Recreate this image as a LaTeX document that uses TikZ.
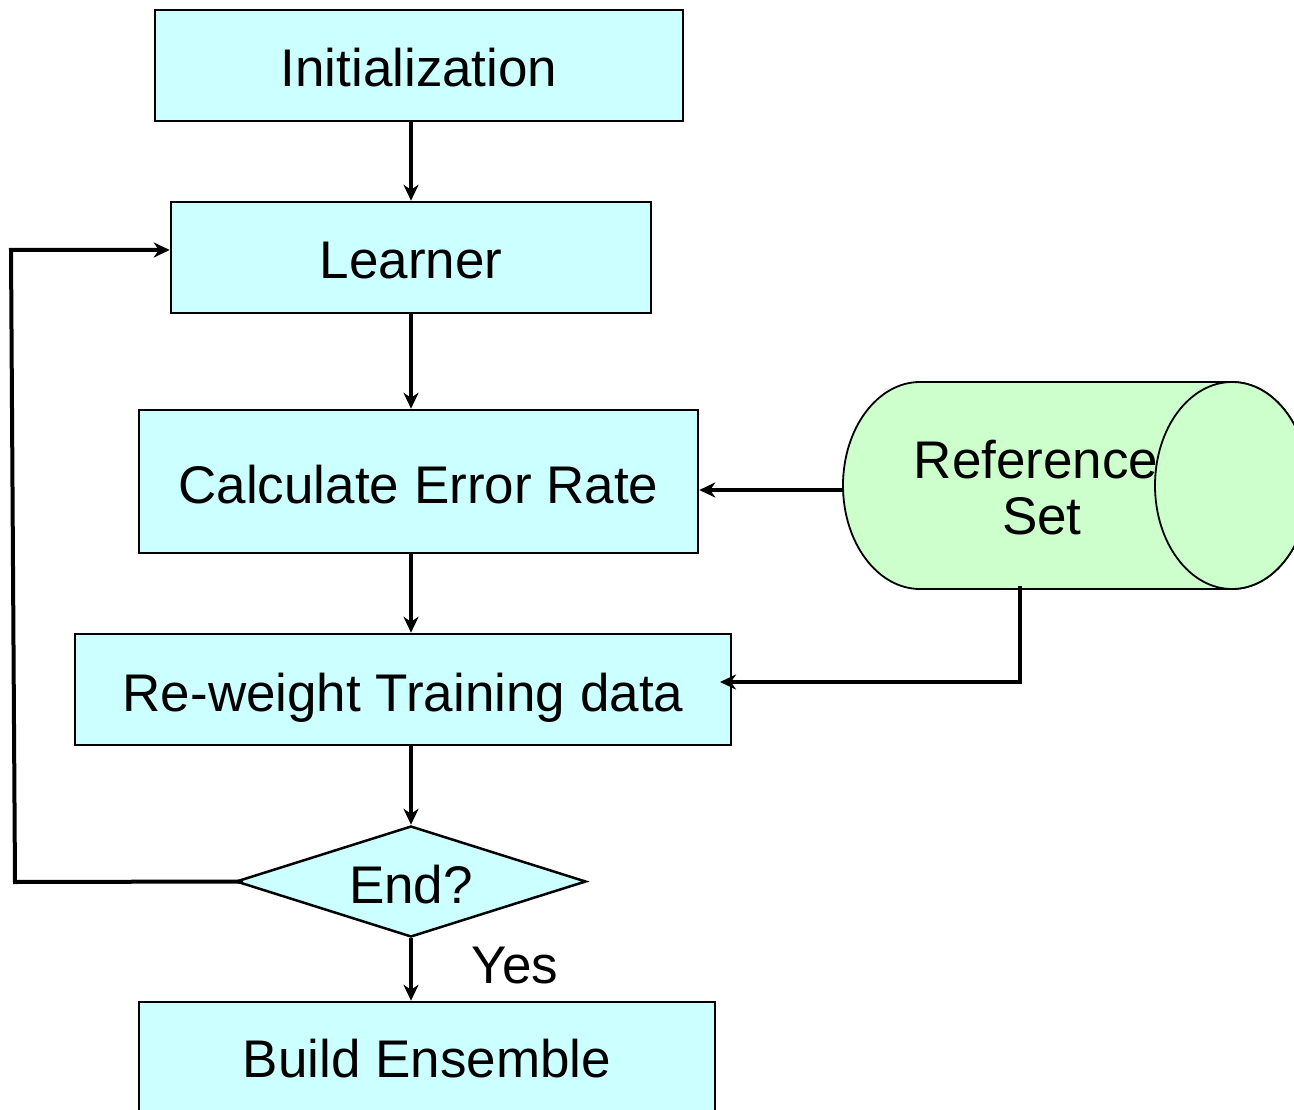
\documentclass[tikz,border=0pt]{standalone}
\usepackage{fontspec}
\setmainfont{Liberation Sans}
\usetikzlibrary{arrows.meta,shapes.geometric}
\definecolor{boxcyan}{HTML}{CCFFFF}
\definecolor{storegreen}{HTML}{CCFFCC}
\tikzset{
  every node/.style={font=\fontsize{53}{60}\selectfont, inner sep=0pt},
  oneline/.style={text height=43pt, text depth=0pt},
  procbox/.style={oneline, draw=black, line width=2.5pt, fill=boxcyan, rectangle},
  flow/.style={draw=black, line width=4pt, -{Stealth[length=16pt,width=15pt,inset=5pt]}}
}
\begin{document}
\begin{tikzpicture}[x=1pt,y=-1pt]
\useasboundingbox (0,0) rectangle (1294,1110);
\clip (0,0) rectangle (1294,1110);

% process steps
\node[procbox, minimum width=528pt, minimum height=111pt] (init) at (419,65.5) {Initialization};
\node[procbox, minimum width=480pt, minimum height=111pt] (learner) at (411,257.5) {Learner};
\node[procbox, minimum width=559pt, minimum height=143pt] (calc) at (418.5,481.5) {Calculate Error Rate};
\node[procbox, minimum width=656pt, minimum height=111pt] (reweight) at (403,689.5) {Re-weight Training data};
\node[diamond, draw=black, line width=2.5pt, fill=boxcyan, minimum width=350pt, minimum height=111pt] (stop) at (411,881.5) {};
\node[oneline] (stoptext) at (stop) {End?};
% the last box runs past the lower edge
\node[procbox, text depth=23pt, minimum width=576pt, minimum height=130pt] (build) at (427,1067) {Build Ensemble};

% reference set drawn as a horizontal cylinder
\path[fill=storegreen, draw=black, line width=1.8pt]
  (920,382) -- (1232,382) arc[start angle=90, end angle=-90, x radius=77, y radius=-103.5]
  -- (920,589) arc[start angle=270, end angle=90, x radius=77, y radius=-103.5] -- cycle;
\draw[fill=storegreen, line width=1.8pt] (1232,485.5) ellipse[x radius=77, y radius=103.5];
\node[align=center] (refset) at (1036,488) {Reference\\[-4pt]\hphantom{i}Set};
\coordinate (refW) at (843,490);
\coordinate (refS) at (1020,586);
\coordinate (refBend) at (1020,682);
\coordinate (rwIn) at (720,682);

% main flow
\draw[flow] (init.south -| learner) -- (learner);
\draw[flow] (learner) -- (learner |- calc.north);
\draw[flow] (calc.south -| learner) -- (reweight.north -| learner);
\draw[flow] (reweight.south -| learner) -- (stop.north);
\draw[flow] (stop.south) -- (build.north -| stop);
\node[oneline] (yes) at (515,962) {Yes};

% loop back to the learner
\coordinate (loopA) at (15,882);
\coordinate (loopB) at (11,250);
\draw[flow] ([xshift=8pt]stop.west) -- (loopA) -- (loopB) -- (loopB -| learner.west);

% reference set feeds
\draw[flow] (refW) -- (refW -| calc.east);
\draw[flow] (refS) -- (refBend) -- (rwIn);
\end{tikzpicture}
\end{document}
